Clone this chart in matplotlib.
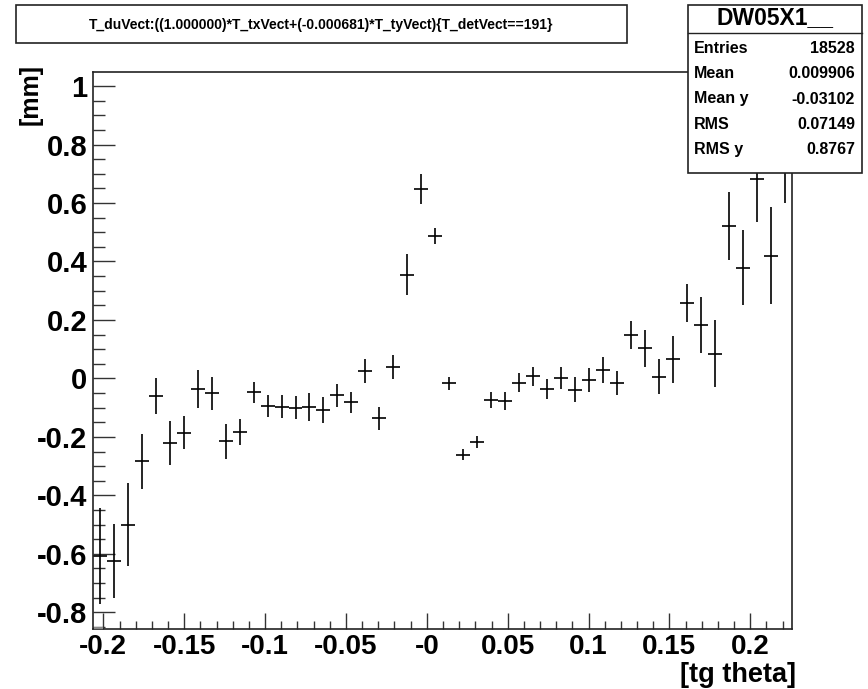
import numpy as np
import matplotlib
matplotlib.use("Agg")
import matplotlib.pyplot as plt
from matplotlib.patches import Rectangle
from matplotlib.lines import Line2D
from matplotlib.ticker import FixedLocator, FixedFormatter, MultipleLocator

plt.rcParams['font.family'] = ['Liberation Sans', 'DejaVu Sans']

# profile binning (tg theta)
x_lo, x_hi, n_bins = -0.2066, 0.2258, 50

tg_theta = [-0.20228, -0.19363, -0.18498, -0.17633, -0.16768, -0.15904, -0.15039, -0.14174,
            -0.13309, -0.12444, -0.11580, -0.10715, -0.09850, -0.08985, -0.08120, -0.07256,
            -0.06391, -0.05526, -0.04661, -0.03796, -0.02932, -0.02067, -0.01202, -0.00337,
            0.00528, 0.01392, 0.02257, 0.03122, 0.03987, 0.04852, 0.05716, 0.06581,
            0.07446, 0.08311, 0.09176, 0.10040, 0.10905, 0.11770, 0.12635, 0.13500,
            0.14364, 0.15229, 0.16094, 0.16959, 0.17824, 0.18688, 0.19553, 0.20418,
            0.21283, 0.22148]

du_mean = [-0.607, -0.625, -0.500, -0.284, -0.060, -0.220, -0.186, -0.035,
           -0.051, -0.215, -0.184, -0.047, -0.094, -0.097, -0.100, -0.098,
           -0.109, -0.058, -0.082, 0.025, -0.137, 0.039, 0.355, 0.647,
           0.487, -0.017, -0.261, -0.218, -0.075, -0.078, -0.015, 0.007,
           -0.036, 0.002, -0.038, -0.004, 0.030, -0.016, 0.148, 0.103,
           0.006, 0.066, 0.258, 0.184, 0.084, 0.520, 0.379, 0.682,
           0.420, 0.820]

du_err = [0.165, 0.127, 0.141, 0.094, 0.060, 0.076, 0.057, 0.065,
          0.057, 0.059, 0.044, 0.036, 0.038, 0.040, 0.040, 0.047,
          0.044, 0.039, 0.037, 0.042, 0.040, 0.041, 0.070, 0.051,
          0.028, 0.023, 0.018, 0.021, 0.027, 0.030, 0.032, 0.033,
          0.034, 0.038, 0.044, 0.041, 0.044, 0.041, 0.048, 0.063,
          0.060, 0.080, 0.064, 0.096, 0.115, 0.116, 0.128, 0.148,
          0.165, 0.220]

xticks = [-0.2, -0.15, -0.1, -0.05, 0.0, 0.05, 0.1, 0.15, 0.2]
xtick_labels = ['-0.2', '-0.15', '-0.1', '-0.05', '-0', '0.05', '0.1', '0.15', '0.2']
yticks = [-0.8, -0.6, -0.4, -0.2, 0.0, 0.2, 0.4, 0.6, 0.8, 1.0]
ytick_labels = ['-0.8', '-0.6', '-0.4', '-0.2', '0', '0.2', '0.4', '0.6', '0.8', '1']

title = 'T_duVect:((1.000000)*T_txVect+(-0.000681)*T_tyVect){T_detVect==191}'
stats_name = 'DW05X1__'
stats_labels = ['Entries', 'Mean', 'Mean y', 'RMS', 'RMS y']
stats_values = ['18528', '0.009906', '-0.03102', '0.07149', '0.8767']

W, H = 868, 689
fig = plt.figure(figsize=(W / 100, H / 100), dpi=100)


def fx(px):
    return px / W


def fy(py):
    return 1 - py / H


left, right, top, bottom = 92.7, 792.0, 72.3, 629.3
ax = fig.add_axes([fx(left), fy(bottom), fx(right) - fx(left), fy(top) - fy(bottom)])

half_bin = (x_hi - x_lo) / n_bins / 2
ax.errorbar(tg_theta, du_mean, yerr=du_err, xerr=half_bin, fmt='none',
            ecolor='black', elinewidth=1.2, capsize=0)

ax.set_xlim(x_lo, x_hi)
ax.set_ylim(-0.858, 1.047)

ax.xaxis.set_major_locator(FixedLocator(xticks))
ax.xaxis.set_major_formatter(FixedFormatter(xtick_labels))
ax.xaxis.set_minor_locator(MultipleLocator(0.01))
ax.yaxis.set_major_locator(FixedLocator(yticks))
ax.yaxis.set_major_formatter(FixedFormatter(ytick_labels))
ax.yaxis.set_minor_locator(MultipleLocator(0.05))

ax.tick_params(axis='both', which='both', direction='in', top=False, right=False,
               color='#333333', width=1.0)
ax.tick_params(axis='x', which='major', length=11.5, pad=3.5, labelsize=20)
ax.tick_params(axis='x', which='minor', length=6)
ax.tick_params(axis='y', which='major', length=16, pad=4, labelsize=21)
ax.tick_params(axis='y', which='minor', length=8.5)
for lab in ax.get_xticklabels() + ax.get_yticklabels():
    lab.set_fontweight('bold')
for sp in ax.spines.values():
    sp.set_color('#222222')
    sp.set_linewidth(1.2)

# little grey strip at the lower left corner of the frame
fig.patches.append(Rectangle((fx(93.5), fy(629)), fx(103.3) - fx(93.5), fy(626.5) - fy(629),
                             transform=fig.transFigure, facecolor='#888888',
                             edgecolor='none', zorder=4))

# axis titles, ROOT style (at the axis ends)
fig.text(fx(796), fy(675), '[tg theta]', ha='right', va='center',
         fontsize=19.5, fontweight='bold')
fig.text(fx(31), fy(64), '[mm]', ha='center', va='top', rotation=90,
         fontsize=18, fontweight='bold')

# title box
fig.patches.append(Rectangle((fx(15.6), fy(42.7)), fx(627) - fx(15.6), fy(5) - fy(42.7),
                             transform=fig.transFigure, facecolor='white',
                             edgecolor='#222222', linewidth=1.2, zorder=5))
fig.text(fx(321), fy(24.5), title, ha='center', va='center', fontsize=10,
         fontweight='bold', zorder=6)

# stats box
bx0, bx1, by0, by1 = 688.3, 862.0, 5.0, 172.7
fig.patches.append(Rectangle((fx(bx0), fy(by1)), fx(bx1) - fx(bx0), fy(by0) - fy(by1),
                             transform=fig.transFigure, facecolor='white',
                             edgecolor='#222222', linewidth=1.2, zorder=5))
fig.lines.append(Line2D([fx(bx0), fx(bx1)], [fy(33.3), fy(33.3)],
                        transform=fig.transFigure, color='#222222', linewidth=1.0, zorder=6))
fig.text(fx((bx0 + bx1) / 2), fy(18), stats_name, ha='center', va='center',
         fontsize=16.5, fontweight='bold', zorder=6)
row_y = np.linspace(48.5, 149.5, len(stats_labels))
for yy, lab, val in zip(row_y, stats_labels, stats_values):
    fig.text(fx(694), fy(yy), lab, ha='left', va='center', fontsize=11.5,
             fontweight='bold', zorder=6)
    fig.text(fx(855), fy(yy), val, ha='right', va='center', fontsize=11.5,
             fontweight='bold', zorder=6)

fig.savefig('out.png', dpi=100, facecolor='white')
